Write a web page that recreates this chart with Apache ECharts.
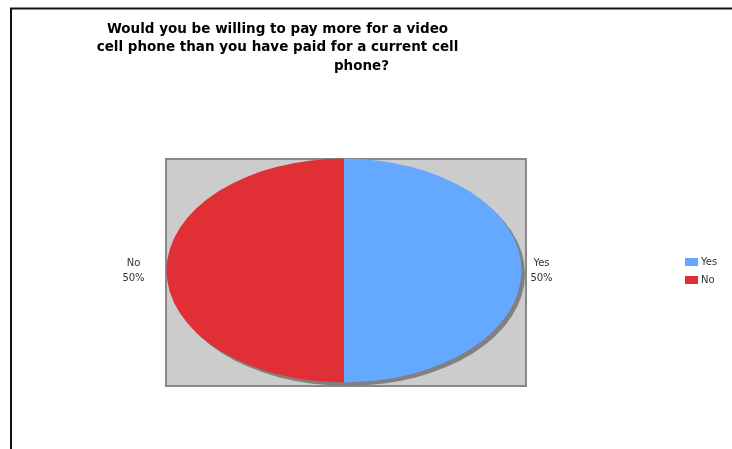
<!DOCTYPE html>
<html>
<head>
<meta charset="utf-8">
<script src="https://cdn.jsdelivr.net/npm/echarts@6/dist/echarts.min.js"></script>
<style>
  html, body { margin: 0; padding: 0; background: #ffffff; }
  #chart { width: 732px; height: 449px; }
</style>
</head>
<body>
<div id="chart"></div>
<script>
// Survey answers
const titleLines = [
  'Would you be willing to pay more for a video',
  'cell phone than you have paid for a current cell',
  'phone?'
];
const categories = ['Yes', 'No'];
const shares = [50, 50];
const palette = ['#64a9ff', '#e02f35'];

// Ellipse geometry of the pie
const CX = 344, CY = 270.5, RX = 177.5, RY = 112;
const total = shares.reduce((a, b) => a + b, 0);

function renderSlice(params, api) {
  let before = 0;
  for (let k = 0; k < params.dataIndex; k++) before += shares[k];
  const v = api.value(0);
  const a0 = -Math.PI / 2 + before / total * Math.PI * 2;
  const a1 = a0 + v / total * Math.PI * 2;
  const mid = (a0 + a1) / 2;
  const sx = RX / RY;
  const shape = { cx: 0, cy: 0, r0: 0, r: RY, startAngle: a0, endAngle: a1, clockwise: true };
  const pct = Math.round(v / total * 100) + '%';
  const cos = Math.cos(mid);
  const lx = CX + cos * RX + (cos >= 0 ? 20 : -33);
  const ly = CY + Math.sin(mid) * RY;
  return {
    type: 'group',
    children: [
      { type: 'group', x: CX + 3.5, y: CY + 3.5, scaleX: sx, scaleY: 1,
        children: [{ type: 'sector', shape: Object.assign({}, shape), style: { fill: '#808080' }, z2: 0 }] },
      { type: 'group', x: CX, y: CY, scaleX: sx, scaleY: 1,
        children: [{ type: 'sector', shape: Object.assign({}, shape), style: { fill: palette[params.dataIndex] }, z2: 10 }] },
      { type: 'text', x: lx, y: ly, z2: 20,
        style: { text: categories[params.dataIndex] + '\n' + pct, fill: '#333333',
                 font: '10px "DejaVu Sans"', align: 'center', verticalAlign: 'middle', lineHeight: 15 } }
    ]
  };
}

const chart = echarts.init(document.getElementById('chart'), null, { renderer: 'canvas' });

const titleY = [29, 47.5, 66];
const titleX = [277.5, 277.5, 361.5];

chart.setOption({
  backgroundColor: '#ffffff',
  animation: false,
  color: palette,
  legend: {
    orient: 'vertical',
    left: 685,
    top: 257,
    padding: 0,
    icon: 'rect',
    itemWidth: 13,
    itemHeight: 8,
    itemGap: 8,
    selectedMode: false,
    data: categories,
    textStyle: { fontFamily: 'DejaVu Sans', fontSize: 10, color: '#333333', lineHeight: 10, padding: [0, 0, 0, -2] }
  },
  graphic: [
    // outer frame
    { type: 'line', shape: { x1: 10, y1: 8.5, x2: 732, y2: 8.5 }, style: { stroke: '#111', lineWidth: 2 }, z: 1 },
    { type: 'line', shape: { x1: 11, y1: 8, x2: 11, y2: 449 }, style: { stroke: '#111', lineWidth: 2 }, z: 1 },
    // plot area
    { type: 'rect', shape: { x: 166, y: 159, width: 360, height: 227 },
      style: { fill: '#cccccc', stroke: '#888888', lineWidth: 2 }, z: -1 }
  ].concat(titleLines.map((t, i) => ({
    type: 'text', x: titleX[i], y: titleY[i], z: 1,
    style: { text: t, font: 'bold 13.5px "DejaVu Sans"', fill: '#000000', align: 'center', verticalAlign: 'middle' }
  }))),
  series: [
    {
      // carries legend entries and colours
      type: 'pie',
      name: 'legendSource',
      radius: [0, 0],
      center: [CX, CY],
      silent: true,
      label: { show: false },
      labelLine: { show: false },
      data: categories.map((c, i) => ({ name: c, value: shares[i] }))
    },
    {
      type: 'custom',
      name: 'Answers',
      coordinateSystem: 'none',
      silent: true,
      renderItem: renderSlice,
      data: categories.map((c, i) => ({ name: c, value: [shares[i]] }))
    }
  ]
});
</script>
</body>
</html>
